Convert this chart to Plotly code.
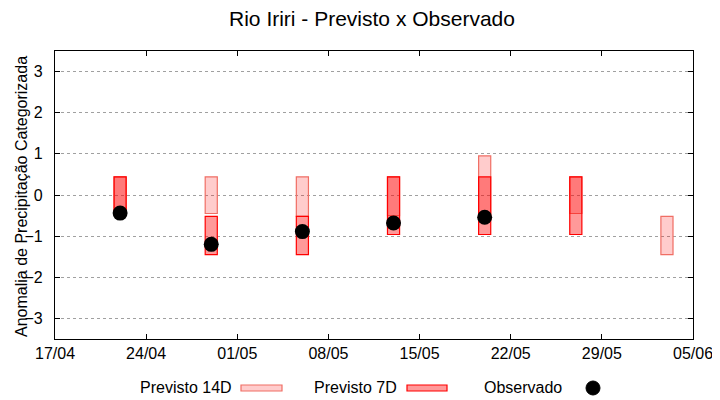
import plotly.graph_objects as go

# ---- data ----
dates = ["2024-04-22", "2024-04-29", "2024-05-06", "2024-05-13",
         "2024-05-20", "2024-05-27", "2024-06-03"]
prev14_low = [-0.45, -0.45, -0.52, -0.50, -0.45, -0.45, -1.45]
prev14_high = [0.44, 0.44, 0.44, 0.44, 0.95, 0.44, -0.52]
prev7_low = [-0.45, -1.45, -1.45, -0.96, -0.96, -0.96, None]
prev7_high = [0.44, -0.52, -0.52, 0.44, 0.44, 0.44, None]
obs_dates = ["2024-04-22", "2024-04-29", "2024-05-06", "2024-05-13", "2024-05-20"]
obs_values = [-0.44, -1.20, -0.89, -0.68, -0.54]
y_ticks = [-3, -2, -1, 0, 1, 2, 3]

DAY = 86400000
FONT = "Liberation Sans"

fig = go.Figure()

d14 = [(d, lo, hi) for d, lo, hi in zip(dates, prev14_low, prev14_high) if lo is not None]
fig.add_trace(go.Bar(
    x=[d for d, _, _ in d14],
    base=[lo for _, lo, _ in d14],
    y=[hi - lo for _, lo, hi in d14],
    width=0.93 * DAY,
    marker=dict(color="rgba(255,0,0,0.2)", line=dict(color="rgba(240,110,100,1)", width=1.2)),
    name="Previsto 14D", showlegend=False, hoverinfo="skip",
))

d7 = [(d, lo, hi) for d, lo, hi in zip(dates, prev7_low, prev7_high) if lo is not None]
fig.add_trace(go.Bar(
    x=[d for d, _, _ in d7],
    base=[lo for _, lo, _ in d7],
    y=[hi - lo for _, lo, hi in d7],
    width=0.93 * DAY,
    marker=dict(color="rgba(255,0,0,0.4)", line=dict(color="#ff0000", width=1.2)),
    name="Previsto 7D", showlegend=False, hoverinfo="skip",
))

fig.add_trace(go.Scatter(
    x=obs_dates, y=obs_values, mode="markers",
    marker=dict(color="black", size=15, symbol="circle"),
    name="Observado", showlegend=False,
))

# ---- manual legend (text left of symbol, gnuplot style) ----
# coordinates below are screen pixels; plot area spans x 55..693, y 51..339
W, H = 638.0, 288.0
def px(x):
    return (x - 55) / W
def py(y):
    return (339 - y) / H

shapes = [
    dict(type="rect", xref="paper", yref="paper", x0=px(241), x1=px(282), y0=py(385), y1=py(391),
         fillcolor="rgba(255,0,0,0.2)", line=dict(color="rgba(240,110,100,1)", width=1.2)),
    dict(type="rect", xref="paper", yref="paper", x0=px(407), x1=px(447), y0=py(385), y1=py(391),
         fillcolor="rgba(255,0,0,0.4)", line=dict(color="#ff0000", width=1.2)),
    dict(type="circle", xref="paper", yref="paper", xsizemode="pixel", ysizemode="pixel",
         xanchor=px(593), yanchor=py(388), x0=-7, x1=7, y0=-7, y1=7,
         fillcolor="black", line=dict(color="black", width=1)),
]
annotations = [
    dict(text=t, xref="paper", yref="paper", x=px(xr), y=py(387), xanchor="right", yanchor="middle",
         showarrow=False, font=dict(family=FONT, size=16, color="black"))
    for t, xr in [("Previsto 14D", 234), ("Previsto 7D", 399), ("Observado", 564)]
]
annotations.append(dict(
    text="Anomalia de Precipitação Categorizada", xref="paper", yref="paper",
    x=px(21), y=py(197), xanchor="center", yanchor="middle", textangle=-90,
    showarrow=False, font=dict(family=FONT, size=16, color="black")))

# page body has an 8px margin, so the figure is 8px smaller and offset
fig.update_layout(
    width=712, height=392,
    margin=dict(l=47, r=27, t=43, b=61, autoexpand=False),
    paper_bgcolor="white", plot_bgcolor="white",
    barmode="overlay",
    title=dict(text="Rio Iriri - Previsto x Observado", x=364 / 712, xanchor="center",
               y=1 - 11 / 392, yanchor="middle", automargin=False,
               font=dict(family=FONT, size=21, color="black")),
    font=dict(family=FONT, size=16, color="black"),
    shapes=shapes, annotations=annotations,
    showlegend=False,
)

fig.update_xaxes(
    type="date", range=["2024-04-17", "2024-06-05"],
    tick0="2024-04-17", dtick=7 * DAY, tickformat="%d/%m",
    showgrid=False, zeroline=False, automargin=False,
    showline=True, linecolor="black", linewidth=1.2, mirror="ticks",
    ticks="inside", ticklen=5, tickcolor="black", tickwidth=1,
    tickfont=dict(family=FONT, size=16, color="black"),
    ticklabelstandoff=0,
)
fig.update_yaxes(
    range=[-3.5, 3.5], tickvals=y_ticks,
    showgrid=True, gridcolor="#a0a0a0", gridwidth=1, griddash="3px,3px",
    zeroline=False, automargin=False,
    showline=True, linecolor="black", linewidth=1.2, mirror="ticks",
    ticks="inside", ticklen=5, tickcolor="black", tickwidth=1,
    tickfont=dict(family=FONT, size=16, color="black"),
    ticklabelstandoff=8,
)

fig.write_html("out.html")
